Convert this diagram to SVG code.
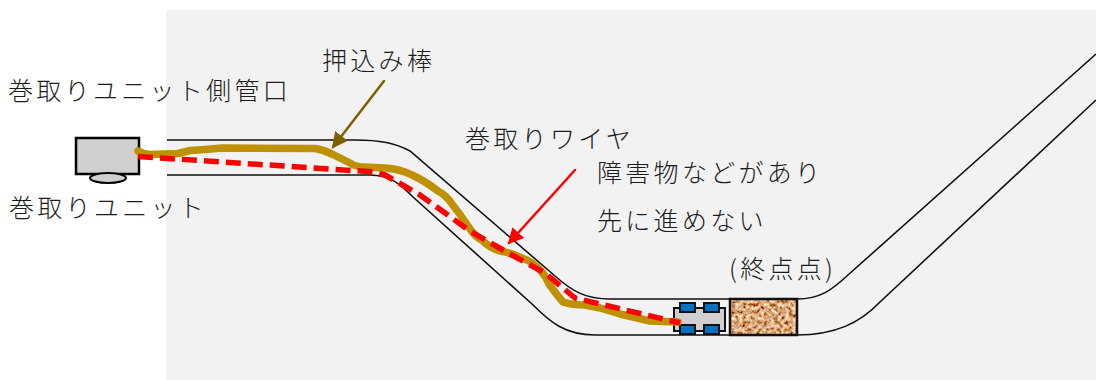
<svg xmlns="http://www.w3.org/2000/svg" width="1096" height="380" viewBox="0 0 1096 380">
  <style>
    .label { font-family: "Noto Sans CJK JP", "Noto Sans CJK SC", sans-serif; font-size: 25px; font-weight: 300; fill: #1c1c1c; letter-spacing: 3.3px; }
    .pipe { fill: none; stroke: #111; stroke-width: 1.6; }
    .wheel { fill: #0070c0; stroke: #111; stroke-width: 2; }
  </style>
  <defs>
    <marker id="brownHead" markerUnits="userSpaceOnUse" markerWidth="18" markerHeight="18" refX="14" refY="8" orient="auto">
      <path d="M0 0L16 8L0 16Z" fill="#7f6000"/>
    </marker>
    <marker id="redHead" markerUnits="userSpaceOnUse" markerWidth="18" markerHeight="18" refX="14" refY="8" orient="auto">
      <path d="M0 0L16 8L0 16Z" fill="#ff0000"/>
    </marker>
    <!-- mottled soil fill for the blockage -->
    <filter id="grain" x="0" y="0" width="100%" height="100%">
      <feTurbulence type="fractalNoise" baseFrequency="0.28" numOctaves="2" seed="7" result="n"/>
      <feColorMatrix in="n" type="matrix" values="1.5 0 0 0 -0.06  1.4 0 0 0 -0.3  1.2 0 0 0 -0.38  0 0 0 0 1"/>
    </filter>
  </defs>

  <rect id="ground" x="166" y="10" width="930" height="370" fill="#f2f2f2"/>

  <g id="pipe">
    <path class="pipe" d="M167 140H355C380 140 395 143 410 151L555 276C572 291 585 299 610 299H730"/>
    <path class="pipe" d="M167 175H370C390 175 400 184 413 197L532 304C550 322 565 335 595 335H730"/>
    <path class="pipe" d="M797 299C820 299 832 290 848 275L1096 54"/>
    <path class="pipe" d="M797 335C835 335 860 323 880 302L1096 100"/>
  </g>

  <g id="winder">
    <rect x="76" y="138" width="63" height="36" fill="#d0cece" stroke="#000" stroke-width="2.5"/>
    <ellipse cx="108" cy="178" rx="18" ry="5" fill="#d0cece" stroke="#000" stroke-width="2"/>
  </g>

  <g id="obstacle">
    <rect x="730" y="299" width="67" height="36" filter="url(#grain)"/>
    <rect x="730" y="299" width="67" height="36" fill="none" stroke="#111" stroke-width="2.5"/>
  </g>

  <g id="robot">
    <path d="M674 308H725V331H674Z" fill="#d0cece" stroke="#111" stroke-width="2"/>
    <rect x="680" y="303" width="15" height="9" class="wheel"/>
    <rect x="704" y="303" width="15" height="9" class="wheel"/>
    <rect x="680" y="325" width="15" height="9" class="wheel"/>
    <rect x="704" y="325" width="15" height="9" class="wheel"/>
  </g>

  <g id="connectors" fill="none" stroke-linejoin="round" stroke-linecap="round">
    <path d="M138 151Q143 154 150 154.500L178 153.500L190 150.500L205 149.500L222 148L315 148.500Q325 150 334 155Q342 159 350 163Q356 167 364 167L385 168Q400 169 412 175Q425 181 438 191Q447 196 452 204Q460 214 468 226Q474 236 483 241Q490 248 500 251Q512 253 522 258Q533 262 540 270Q546 276 549 284Q556 294 563 302Q572 305 585 305L600 308L620 314L650 321L678 322" stroke="#bf9000" stroke-width="7.500"/>
    <path d="M138 156.500L375 172L385 175L420 195L470 231L510 254L545 273L575 298L680 323" stroke="#ff0000" stroke-width="5.500" stroke-dasharray="15 7" stroke-linecap="butt"/>
    <path d="M384 81L333 147" stroke="#7f6000" stroke-width="2.500" marker-end="url(#brownHead)"/>
    <path d="M575 170L509 243" stroke="#ff0000" stroke-width="2.500" marker-end="url(#redHead)"/>
  </g>

  <g id="labels">
    <text class="label" x="322" y="70">押込み棒</text>
    <text class="label" x="8" y="100">巻取りユニット側管口</text>
    <text class="label" x="9" y="217">巻取りユニット</text>
    <text class="label" x="465" y="148">巻取りワイヤ</text>
    <text class="label" x="597" y="182">障害物などがあり</text>
    <text class="label" x="597" y="230">先に進めない</text>
    <text class="label" x="729" y="278" letter-spacing="4.5">(終点点)</text>
  </g>
</svg>
